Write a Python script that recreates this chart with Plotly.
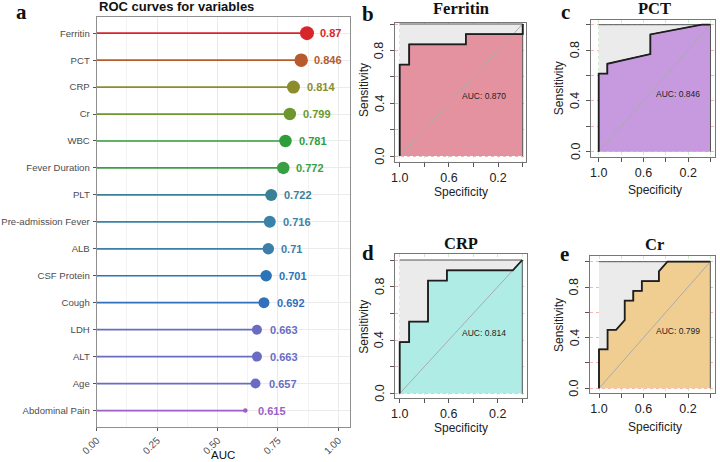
import plotly.graph_objects as go

W, H = 720, 462

# ---------------- data ----------------
variables = ["Ferritin", "PCT", "CRP", "Cr", "WBC", "Fever Duration", "PLT",
             "Pre-admission Fever", "ALB", "CSF Protein", "Cough", "LDH", "ALT",
             "Age", "Abdominal Pain"]
auc_values = [0.87, 0.846, 0.814, 0.799, 0.781, 0.772, 0.722, 0.716, 0.71,
              0.701, 0.692, 0.663, 0.663, 0.657, 0.615]
auc_labels = ["0.87", "0.846", "0.814", "0.799", "0.781", "0.772", "0.722",
              "0.716", "0.71", "0.701", "0.692", "0.663", "0.663", "0.657", "0.615"]
x_ticks = [0, 0.25, 0.5, 0.75, 1.0]
x_ticktext = ["0.00", "0.25", "0.50", "0.75", "1.00"]

roc_titles = ["Ferritin", "PCT", "CRP", "Cr"]
roc_auc_text = ["AUC: 0.870", "AUC: 0.846", "AUC: 0.814", "AUC: 0.799"]
ferritin_spec = [1, 1, 0.923, 0.923, 0.462, 0.462, 0, 0]
ferritin_sens = [0, 0.692, 0.692, 0.846, 0.846, 0.923, 0.923, 1]
pct_spec = [1, 1, 0.923, 0.923, 0.538, 0.538, 0.077, 0]
pct_sens = [0, 0.615, 0.615, 0.692, 0.769, 0.923, 1, 1]
crp_spec = [1, 1, 0.923, 0.923, 0.769, 0.769, 0.615, 0.615, 0.077, 0]
crp_sens = [0, 0.385, 0.385, 0.538, 0.538, 0.846, 0.846, 0.923, 0.923, 1]
cr_spec = [1, 1, 0.923, 0.923, 0.846, 0.769, 0.769, 0.692, 0.692, 0.615, 0.615,
           0.462, 0.462, 0.385, 0]
cr_sens = [0, 0.308, 0.308, 0.462, 0.462, 0.538, 0.692, 0.692, 0.769, 0.769,
           0.846, 0.846, 0.923, 1, 1]
roc_ticks = [0, 0.2, 0.4, 0.6, 0.8, 1.0]
spec_ticktext = ["1.0", "", "0.6", "", "0.2", ""]
sens_label_vals = [0.0, 0.4, 0.8]
sens_label_text = ["0.0", "0.4", "0.8"]

# ---------------- styles ----------------
SANS = "Liberation Sans, Arial, sans-serif"
SERIF = "Liberation Serif, Times New Roman, serif"
var_colors = ["#D7262B", "#B85B2C", "#8C8C2C", "#6A982C", "#2E9E3A", "#3A9E44",
              "#3A8096", "#3B82A8", "#3B7EAA", "#2B74B9", "#3170BB", "#6A6CC2",
              "#6A6CC2", "#6A6CC2", "#9B5FC8"]
point_px = [14, 13.5, 13, 12.5, 12.5, 12.5, 12, 12, 11.5, 11.5, 11, 10, 10, 10, 4.5]
fills = ["#E592A0", "#C79AE0", "#B0ECE6", "#F0CE92"]


def fx(p):
    return p / W


def fy(p):
    return 1 - p / H


fig = go.Figure()

# ---------------- panel a: lollipop ----------------
for v, a, c in zip(variables, auc_values, var_colors):
    fig.add_trace(go.Scatter(x=[0, a], y=[v, v], mode="lines",
                             line=dict(color=c, width=1.7),
                             xaxis="x", yaxis="y", hoverinfo="skip", showlegend=False))
fig.add_trace(go.Scatter(x=auc_values, y=variables, mode="markers",
                         marker=dict(color=var_colors, size=point_px, line=dict(width=0), opacity=1),
                         xaxis="x", yaxis="y", showlegend=False))
for v, a, lab, c in zip(variables, auc_values, auc_labels, var_colors):
    fig.add_annotation(x=a + 0.05, y=v, xref="x", yref="y", text=f"<b>{lab}</b>",
                       xanchor="left", yanchor="middle", showarrow=False,
                       font=dict(family=SANS, size=11, color=c), borderpad=0)

axis_common_a = dict(showline=True, mirror=True, linecolor="#8F8F8F", linewidth=1,
                     ticks="outside", ticklen=3, tickcolor="#555", zeroline=False,
                     gridcolor="#EBEBEB", gridwidth=1, automargin=False)
layout = dict(
    xaxis=dict(domain=[fx(96.7), fx(350)], range=[0, 1.048], tickvals=x_ticks,
               ticktext=x_ticktext, tickangle=-45,
               tickfont=dict(family=SANS, size=10, color="#4D4D4D"),
               minor=dict(tickvals=[0.125, 0.375, 0.625, 0.875], showgrid=True,
                          gridcolor="#F3F3F3", gridwidth=0.6, ticks=""),
               anchor="y", **axis_common_a),
    yaxis=dict(domain=[fy(426.7), fy(17)], type="category", categoryorder="array",
               categoryarray=variables[::-1], range=[-0.6, 14.6],
               tickfont=dict(family=SANS, size=9.6, color="#4D4D4D"),
               ticklabelstandoff=1,
               anchor="x", **axis_common_a),
)
fig.add_annotation(x=fx(96.7), y=fy(7), xref="paper", yref="paper",
                   text="<b>ROC curves for variables</b>", xanchor="left", yanchor="middle",
                   showarrow=False, font=dict(family=SANS, size=13, color="#111"))
fig.add_annotation(x=fx(223), y=fy(454.5), xref="paper", yref="paper", text="AUC",
                   xanchor="center", yanchor="middle", showarrow=False,
                   font=dict(family=SANS, size=11.5, color="#111"))
fig.add_annotation(x=fx(21.5), y=fy(12.5), xref="paper", yref="paper", text="<b>a</b>",
                   xanchor="center", yanchor="middle", showarrow=False,
                   font=dict(family=SERIF, size=21, color="#111"))

# ---------------- panels b-e: ROC curves ----------------
panels = [
    dict(frame=(395.3, 22.7, 525.7, 161.7), data=(399.7, 522.7, 24.0, 156.0),
         letter="b", lpos=(368, 13.5), tpos=(456.7, 8.5), sx=364, spy=191.5),
    dict(frame=(590.7, 20.0, 714.5, 156.7), data=(598.7, 710.5, 24.7, 151.7),
         letter="c", lpos=(565.3, 12.5), tpos=(652, 9), sx=559, spy=190),
    dict(frame=(394.7, 254.0, 526.7, 398.0), data=(399.7, 522.3, 260.0, 393.5),
         letter="d", lpos=(367.5, 253.3), tpos=(456.7, 243.5), sx=364, spy=428.3),
    dict(frame=(590.0, 256.0, 714.5, 393.3), data=(599.0, 710.3, 261.7, 388.3),
         letter="e", lpos=(564.7, 253.5), tpos=(653.3, 244), sx=559, spy=426.7),
]
curves = [(ferritin_spec, ferritin_sens), (pct_spec, pct_sens),
          (crp_spec, crp_sens), (cr_spec, cr_sens)]

for i, (p, (spec, sens)) in enumerate(zip(panels, curves)):
    k = i + 2
    xa, ya = f"x{k}", f"y{k}"
    L, T, R, B = p["frame"]
    x1, x0, y1, y0 = p["data"]
    ppx = x0 - x1
    ppy = y0 - y1
    xr = [1 + (x1 - L) / ppx, -(R - x0) / ppx]
    yr = [-(B - y0) / ppy, 1 + (y1 - T) / ppy]

    fig.add_trace(go.Scatter(x=spec + [1], y=sens + [1], fill="toself", fillcolor="#EBEBEB",
                             mode="lines", line=dict(color="#555", width=1),
                             xaxis=xa, yaxis=ya, hoverinfo="skip", showlegend=False))
    fig.add_trace(go.Scatter(x=spec + [0], y=sens + [0], fill="toself", fillcolor=fills[i],
                             mode="lines", line=dict(color="#555", width=1),
                             xaxis=xa, yaxis=ya, hoverinfo="skip", showlegend=False))
    fig.add_trace(go.Scatter(x=[1, 0], y=[0, 1], mode="lines",
                             line=dict(color="#ABABAB", width=1),
                             xaxis=xa, yaxis=ya, hoverinfo="skip", showlegend=False))
    fig.add_trace(go.Scatter(x=spec, y=sens, mode="lines",
                             line=dict(color="#1E1E1E", width=1.8),
                             xaxis=xa, yaxis=ya, showlegend=False))

    common = dict(showline=True, mirror=True, linecolor="#777", linewidth=1.2,
                  ticks="outside", ticklen=4, tickcolor="#555", zeroline=False,
                  showgrid=True, griddash="dot", gridwidth=1, automargin=False,
                  tickfont=dict(family=SANS, size=12.5, color="#222"))
    layout[f"xaxis{k}"] = dict(domain=[fx(L), fx(R)], range=xr, anchor=ya,
                               tickvals=roc_ticks[::-1], ticktext=spec_ticktext,
                               gridcolor="#C8EEC8", **common)
    layout[f"yaxis{k}"] = dict(domain=[fy(B), fy(T)], range=yr, anchor=xa,
                               tickvals=roc_ticks, showticklabels=False,
                               gridcolor="#F6B4B4", **common)

    # rotated sensitivity tick labels, centred on their ticks
    for val, txt in zip(sens_label_vals, sens_label_text):
        fig.add_annotation(x=fx(L - 15.5), y=val, xref="paper", yref=ya, text=txt,
                           textangle=-90, xanchor="center", yanchor="middle",
                           showarrow=False, borderpad=0,
                           font=dict(family=SANS, size=12.5, color="#222"))

    cx = (x1 + x0) / 2
    cy = (y1 + y0) / 2
    fig.add_annotation(x=0.5, y=0.5, xref=xa, yref=ya, text=roc_auc_text[i],
                       xanchor="left", yanchor="top", showarrow=False, borderpad=0,
                       font=dict(family=SANS, size=8.5, color="#222"))
    fig.add_annotation(x=fx(cx), y=fy(p["tpos"][1]), xref="paper", yref="paper",
                       text=f"<b>{roc_titles[i]}</b>", xanchor="center", yanchor="middle",
                       showarrow=False, font=dict(family=SERIF, size=16.5, color="#111"))
    fig.add_annotation(x=fx(p["lpos"][0]), y=fy(p["lpos"][1]), xref="paper", yref="paper",
                       text=f"<b>{p['letter']}</b>", xanchor="center", yanchor="middle",
                       showarrow=False, font=dict(family=SERIF, size=21, color="#111"))
    fig.add_annotation(x=fx(cx), y=fy(p["spy"]), xref="paper", yref="paper",
                       text="Specificity", xanchor="center", yanchor="middle",
                       showarrow=False, font=dict(family=SANS, size=12, color="#222"))
    fig.add_annotation(x=fx(p["sx"]), y=fy(cy), xref="paper", yref="paper",
                       text="Sensitivity", textangle=-90, xanchor="center", yanchor="middle",
                       showarrow=False, font=dict(family=SANS, size=12, color="#222"))

fig.update_layout(width=W, height=H, margin=dict(l=0, r=0, t=0, b=0),
                  paper_bgcolor="white", plot_bgcolor="white", showlegend=False,
                  **layout)

fig.write_html("out.html")
